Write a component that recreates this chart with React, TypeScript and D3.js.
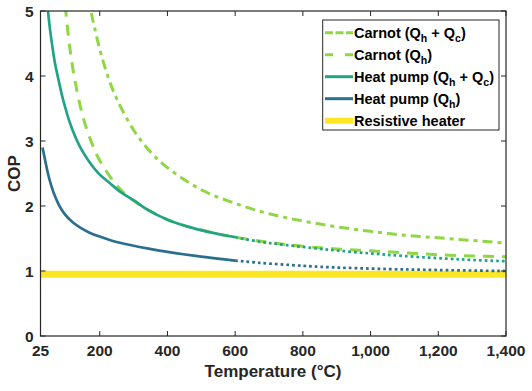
import React from "react";
import * as d3 from "d3";

// temperatures (°C) and COP values
const carnotTotalT = [175, 200, 225, 250, 300, 350, 400, 500, 600, 700, 800, 900, 1000, 1100, 1200, 1300, 1400];
const carnotTotalV = [4.97, 4.41, 3.98, 3.65, 3.17, 2.83, 2.59, 2.25, 2.04, 1.88, 1.77, 1.68, 1.61, 1.55, 1.51, 1.47, 1.43];

const carnotHotT = [98, 110, 125, 150, 175, 200, 250, 300, 400, 500, 600, 700, 800, 900, 1000, 1100, 1200, 1300, 1400];
const carnotHotV = [5.08, 4.5, 3.98, 3.38, 2.99, 2.7, 2.32, 2.08, 1.79, 1.63, 1.52, 1.44, 1.38, 1.34, 1.31, 1.28, 1.25, 1.23, 1.22];

const hpTotalT = [47, 55, 67, 80, 91, 116, 145, 195, 230, 263, 300, 342, 400, 476, 550, 600, 674, 750, 871, 1000, 1100, 1225, 1300, 1400];
const hpTotalV = [5.0, 4.64, 4.22, 3.9, 3.65, 3.22, 2.88, 2.51, 2.35, 2.21, 2.09, 1.94, 1.79, 1.66, 1.57, 1.52, 1.45, 1.4, 1.33, 1.27, 1.23, 1.19, 1.17, 1.15];

const hpHotT = [31, 40, 47, 57, 67, 80, 96, 120, 145, 170, 200, 234, 290, 348, 400, 500, 600, 673, 800, 870, 1050, 1200, 1400];
const hpHotV = [2.9, 2.67, 2.5, 2.31, 2.16, 2.01, 1.88, 1.75, 1.66, 1.59, 1.53, 1.47, 1.4, 1.34, 1.295, 1.22, 1.16, 1.125, 1.08, 1.06, 1.03, 1.015, 1.0];

const resistiveT = [25, 1400];
const resistiveV = [0.95, 0.95];

const xTicks = [25, 200, 400, 600, 800, 1000, 1200, 1400];
const yTicks = [0, 1, 2, 3, 4, 5];
const solidUpTo = 600;

const GREEN = "#8fd744";
const TEAL = "#20a386";
const BLUE = "#2b6f8e";
const YELLOW = "#fde725";
const INK = "#262626";
const FONT = "'Liberation Sans', Arial, sans-serif";

const left = 40.5, right = 506, top = 11, bottom = 336;

const zip = (t, v) => t.map((d, i) => [d, v[i]]);

export default function App() {
  const x = d3.scaleLinear().domain([25, 1400]).range([left, right]);
  const y = d3.scaleLinear().domain([0, 5]).range([bottom, top]);
  const line = d3
    .line()
    .x(d => x(d[0]))
    .y(d => y(d[1]))
    .curve(d3.curveCatmullRom.alpha(0.5));

  const hpTotal = zip(hpTotalT, hpTotalV);
  const hpHot = zip(hpHotT, hpHotV);

  const legend = [
    { label: ["Carnot (Q", "h", " + Q", "c", ")"], color: GREEN, dash: "8,2.5", w: 3 },
    { label: ["Carnot (Q", "h", ")"], color: GREEN, dash: "8,12", w: 3 },
    { label: ["Heat pump (Q", "h", " + Q", "c", ")"], color: TEAL, dash: null, w: 3 },
    { label: ["Heat pump (Q", "h", ")"], color: BLUE, dash: null, w: 3 },
    { label: ["Resistive heater"], color: YELLOW, dash: null, w: 6 },
  ];

  return (
    <svg
      width={532}
      height={391}
      style={{ position: "fixed", left: 0, top: 0, background: "#fff" }}
      fontFamily={FONT}
      fontWeight="bold"
    >
      <defs>
        <clipPath id="plot">
          <rect x={left} y={top} width={right - left} height={bottom - top} />
        </clipPath>
      </defs>

      <g clipPath="url(#plot)" fill="none">
        <path d={line(zip(resistiveT, resistiveV))} stroke={YELLOW} strokeWidth={7} />
        <path d={line(hpHot.filter(d => d[0] >= solidUpTo))} stroke={BLUE} strokeWidth={2.7} strokeDasharray="2.7,3" />
        <path d={line(hpHot.filter(d => d[0] <= solidUpTo))} stroke={BLUE} strokeWidth={2.7} />
        <path d={line(zip(carnotHotT, carnotHotV))} stroke={GREEN} strokeWidth={3} strokeDasharray="11,8" />
        <path d={line(hpTotal.filter(d => d[0] >= solidUpTo))} stroke={TEAL} strokeWidth={2.7} strokeDasharray="2.7,3" />
        <path d={line(hpTotal.filter(d => d[0] <= solidUpTo))} stroke={TEAL} strokeWidth={2.7} />
        <path d={line(zip(carnotTotalT, carnotTotalV))} stroke={GREEN} strokeWidth={3} strokeDasharray="10,5,4,5" />
      </g>

      {/* frame */}
      <rect x={left} y={top} width={right - left} height={bottom - top} fill="none" stroke={INK} strokeWidth={1.2} />

      {xTicks.map(t => (
        <g key={"x" + t}>
          <line x1={x(t)} x2={x(t)} y1={bottom} y2={bottom - 5} stroke={INK} />
          <line x1={x(t)} x2={x(t)} y1={top} y2={top + 5} stroke={INK} />
          <text x={x(t)} y={356} textAnchor="middle" fontSize={15.5} fill={INK}>
            {d3.format(",")(t)}
          </text>
        </g>
      ))}
      {yTicks.map(t => (
        <g key={"y" + t}>
          <line x1={left} x2={left + 5} y1={y(t)} y2={y(t)} stroke={INK} />
          <line x1={right} x2={right - 5} y1={y(t)} y2={y(t)} stroke={INK} />
          <text x={33.5} y={y(t) + 5.5} textAnchor="end" fontSize={15.5} fill={INK}>
            {t}
          </text>
        </g>
      ))}

      <text x={273} y={377} textAnchor="middle" fontSize={17} fill={INK}>
        Temperature (°C)
      </text>
      <text transform={`translate(20,${(top + bottom) / 2}) rotate(-90)`} textAnchor="middle" fontSize={17} fill={INK}>
        COP
      </text>

      {/* legend */}
      <rect x={322.7} y={20} width={176.3} height={110} fill="#fff" stroke={INK} strokeWidth={1} />
      {legend.map((item, i) => {
        const cy = 32.7 + i * 22;
        return (
          <g key={i}>
            <line
              x1={325}
              x2={353}
              y1={cy}
              y2={cy}
              stroke={item.color}
              strokeWidth={item.w}
              strokeDasharray={item.dash || undefined}
            />
            <text x={354} y={cy + 5} fontSize={14.5} fill="#000">
              {item.label.map((s, j) =>
                j % 2 === 1 ? (
                  <tspan key={j} fontSize={10.5} dy={4}>
                    {s}
                  </tspan>
                ) : (
                  <tspan key={j} dy={j === 0 ? 0 : -4}>
                    {s}
                  </tspan>
                )
              )}
            </text>
          </g>
        );
      })}
    </svg>
  );
}
